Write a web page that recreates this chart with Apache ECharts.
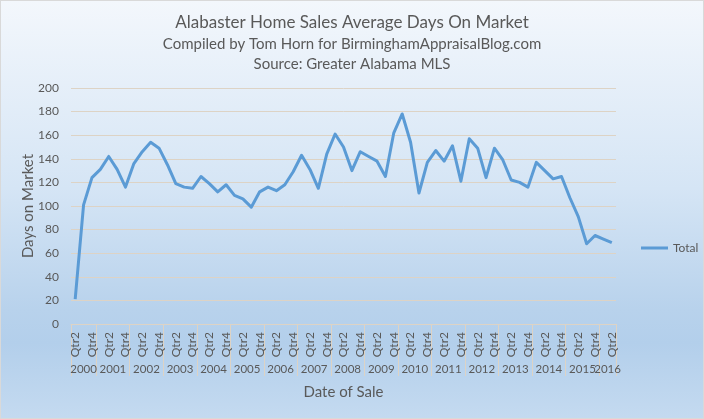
<!DOCTYPE html>
<html><head><meta charset="utf-8">
<script src="https://cdn.jsdelivr.net/npm/echarts@6/dist/echarts.min.js"></script>
<style>
html,body{margin:0;padding:0;}
#c{width:704px;height:419px;box-sizing:border-box;border:1px solid #d9d9d9;
background:linear-gradient(to bottom,#f3f7fc 0%,#d5e5f5 45%,#b8d2ec 74%,#b3cfeb 82%,#c4daf0 100%);}
</style></head><body><div id="c"></div>
<script>
const years = [2000,2001,2002,2003,2004,2005,2006,2007,2008,2009,2010,2011,2012,2013,2014,2015,2016];
const quarterNames = ['Qtr1','Qtr2','Qtr3','Qtr4'];
const firstQuarter = 2;  // data starts 2000 Qtr2
const lastQuarter = 2;   // data ends 2016 Qtr2
const daysOnMarket = [
  21,101,124,
  131,142,131,116,
  136,146,154,149,
  135,119,116,115,
  125,119,112,118,
  109,106,99,112,
  116,113,118,129,
  143,131,115,144,
  161,150,130,146,
  142,138,125,162,
  178,154,111,137,
  147,138,151,121,
  157,149,124,149,
  139,122,120,116,
  137,130,123,125,
  107,91,68,75,
  72,69
];
const yMin = 0, yMax = 200, yStep = 20;

const categories = [], catYear = [];
years.forEach((y, yi) => {
  const qs = yi === 0 ? firstQuarter : 1;
  const qe = yi === years.length - 1 ? lastQuarter : 4;
  for (let q = qs; q <= qe; q++) { categories.push(quarterNames[q - 1]); catYear.push(y); }
});
const yearStart = {}, yearCount = {};
catYear.forEach((y, i) => { if (!(y in yearStart)) yearStart[y] = i; yearCount[y] = (yearCount[y] || 0) + 1; });
const yearMids = years.map(y => yearStart[y] + yearCount[y] / 2);
const midToYear = {};
years.forEach((y, k) => { midToYear[yearMids[k]] = String(y); });
const yearBounds = years.map(y => yearStart[y]).concat([categories.length]);
// alternate year labels across two axes so neighbouring labels are never auto-hidden
const midsEven = yearMids.filter((m, k) => k % 2 === 0);
const midsOdd = yearMids.filter((m, k) => k % 2 === 1);

const FONT = 'Lato';
const TXT = '#595959';
const GRID = '#ddd3c5';

function yearAxis(mids, ticks) {
  return {
    type: 'value', min: 0, max: categories.length, position: 'bottom',
    axisLine: { show: false }, splitLine: { show: false },
    axisTick: ticks ? { show: true, length: 52, customValues: yearBounds, lineStyle: { color: GRID } } : { show: false },
    axisLabel: { margin: 39, fontFamily: FONT, fontSize: 11.5, color: TXT,
      customValues: mids, hideOverlap: false, showMinLabel: true, showMaxLabel: true,
      formatter: (v) => midToYear[v] || '' }
  };
}

const chart = echarts.init(document.getElementById('c'));
chart.setOption({
  animation: false,
  textStyle: { fontFamily: FONT },
  title: {
    text: 'Alabaster Home Sales Average Days On Market',
    subtext: 'Compiled by Tom Horn for BirminghamAppraisalBlog.com\nSource: Greater Alabama MLS',
    left: 'center', top: 8,
    textStyle: { fontFamily: FONT, fontSize: 17, fontWeight: 'normal', color: TXT },
    subtextStyle: { fontFamily: FONT, fontSize: 15, color: TXT, lineHeight: 20 },
    itemGap: 3
  },
  legend: {
    left: 635, top: 236, orient: 'vertical',
    icon: 'rect', itemWidth: 27, itemHeight: 3, itemGap: 5,
    textStyle: { fontFamily: FONT, fontSize: 12, color: TXT },
    data: ['Total']
  },
  grid: { left: 70, right: 87, top: 87, bottom: 94, containLabel: false },
  xAxis: [{
    type: 'category', data: categories, boundaryGap: true, position: 'bottom',
    axisLine: { show: true, lineStyle: { color: GRID, width: 1 } },
    axisTick: { show: false },
    axisLabel: { interval: 1, rotate: 90, margin: 8, fontFamily: FONT, fontSize: 12, color: TXT },
    splitLine: { show: false },
    name: 'Date of Sale', nameLocation: 'middle', nameGap: 61, nameMoveOverlap: false,
    nameTextStyle: { fontFamily: FONT, fontSize: 15, color: TXT }
  }, yearAxis(midsEven, true), yearAxis(midsOdd, false)],
  yAxis: {
    type: 'value', min: yMin, max: yMax, interval: yStep,
    axisLine: { show: false }, axisTick: { show: false },
    splitLine: { lineStyle: { color: GRID, width: 1 } },
    axisLabel: { margin: 12, fontFamily: FONT, fontSize: 12, color: TXT },
    name: 'Days on Market', nameLocation: 'middle', nameGap: 35, nameMoveOverlap: false,
    nameTextStyle: { fontFamily: FONT, fontSize: 15, color: TXT }
  },
  series: [{
    name: 'Total', type: 'line', xAxisIndex: 0, yAxisIndex: 0,
    data: daysOnMarket, symbol: 'none', smooth: false,
    lineStyle: { color: '#5b9bd5', width: 3, join: 'round' },
    itemStyle: { color: '#5b9bd5' }
  }]
});
</script></body></html>
